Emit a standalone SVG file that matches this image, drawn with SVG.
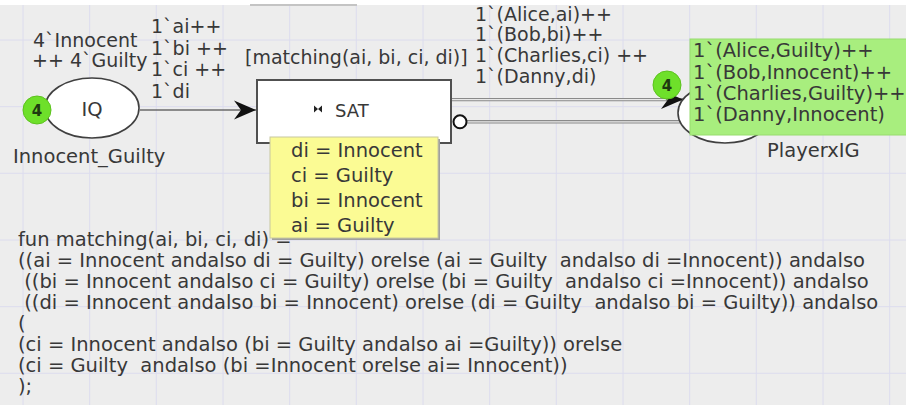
<svg xmlns="http://www.w3.org/2000/svg" width="906" height="405" viewBox="0 0 906 405">
  <style>
    .t { font-family: "DejaVu Sans", Verdana, sans-serif; font-size: 19.5px; fill: #383838; white-space: pre; }
    .s { font-size: 19px; }
    .grid line { stroke: #dcdcee; stroke-width: 1; }
    .place { fill: #ffffff; stroke: #404040; stroke-width: 1.6; }
    .token { fill: #6ee02a; stroke: #5cc21e; stroke-width: 1; }
    .tok { font-family: "DejaVu Sans", Verdana, sans-serif; font-size: 15px; font-weight: bold; fill: #1e3a10; text-anchor: middle; }
    .arc { fill: none; stroke: #8a8a8a; stroke-width: 3.4; }
    .arcIn { fill: none; stroke: #e8e8e8; stroke-width: 1.2; }
  </style>
  <defs>
    <marker id="head" markerUnits="userSpaceOnUse" viewBox="-23 -10 24 20" refX="0" refY="0" markerWidth="24" markerHeight="20" orient="auto">
      <path d="M0,0 L-22,-9.5 L-15,0 L-22,9.5 Z" fill="#111"/>
    </marker>
  </defs>

  <!-- canvas -->
  <rect x="0" y="0" width="906" height="405" fill="#ededed"/>
  <g class="grid">
    <line x1="23" y1="0" x2="23" y2="405"/>
    <line x1="89.7" y1="0" x2="89.7" y2="405"/>
    <line x1="156.3" y1="0" x2="156.3" y2="405"/>
    <line x1="223" y1="0" x2="223" y2="405"/>
    <line x1="289.7" y1="0" x2="289.7" y2="405"/>
    <line x1="356.3" y1="0" x2="356.3" y2="405"/>
    <line x1="423" y1="0" x2="423" y2="405"/>
    <line x1="489.7" y1="0" x2="489.7" y2="405"/>
    <line x1="556.3" y1="0" x2="556.3" y2="405"/>
    <line x1="623" y1="0" x2="623" y2="405"/>
    <line x1="689.7" y1="0" x2="689.7" y2="405"/>
    <line x1="756.3" y1="0" x2="756.3" y2="405"/>
    <line x1="823" y1="0" x2="823" y2="405"/>
    <line x1="889.7" y1="0" x2="889.7" y2="405"/>
    <line x1="0" y1="40" x2="906" y2="40"/>
    <line x1="0" y1="106.7" x2="906" y2="106.7"/>
    <line x1="0" y1="173.3" x2="906" y2="173.3"/>
    <line x1="0" y1="240" x2="906" y2="240"/>
    <line x1="0" y1="306.7" x2="906" y2="306.7"/>
    <line x1="0" y1="373.3" x2="906" y2="373.3"/>
  </g>
  <rect x="0" y="0" width="906" height="5" fill="#ffffff"/>
  <rect x="250" y="4" width="107" height="2" fill="#c4c4c4"/>

  <!-- connectors -->
  <g id="arcs">
    <line x1="140" y1="110" x2="256" y2="110" stroke="#6a6a6a" stroke-width="1.4" marker-end="url(#head)"/>
    <path class="arc" d="M451,99.6 L683,99.6" marker-end="url(#head)"/>
    <path class="arcIn" d="M451,99.6 L666,99.6"/>
    <path class="arc" d="M467,121.8 L680,121.8"/>
    <path class="arcIn" d="M467,121.8 L680,121.8"/>
    <circle cx="460" cy="121.8" r="6.5" fill="#ffffff" stroke="#111" stroke-width="2"/>
    <text class="t s" x="151" y="33">1`ai++</text>
    <text class="t s" x="151" y="55">1`bi ++</text>
    <text class="t s" x="151" y="76">1`ci ++</text>
    <text class="t s" x="151" y="98">1`di</text>
    <text class="t s" x="475" y="20.5">1`(Alice,ai)++</text>
    <text class="t s" x="475" y="41">1`(Bob,bi)++</text>
    <text class="t s" x="475" y="62">1`(Charlies,ci) ++</text>
    <text class="t s" x="475" y="82.5">1`(Danny,di)</text>
  </g>

  <!-- place IQ -->
  <g id="place-IQ">
    <ellipse class="place" cx="92" cy="108" rx="47" ry="30"/>
    <text class="t" x="92" y="116" text-anchor="middle">IQ</text>
    <text class="t s" x="33" y="47">4`Innocent</text>
    <text class="t s" x="32" y="67">++ 4`Guilty</text>
    <text class="t" x="13" y="163">Innocent_Guilty</text>
    <circle class="token" cx="37" cy="110" r="14"/>
    <text class="tok" x="37" y="115.5">4</text>
  </g>

  <!-- transition SAT -->
  <g id="trans-SAT">
    <rect x="257" y="80" width="194" height="63" fill="#ffffff" stroke="#505050" stroke-width="2"/>
    <path d="M314,105.5 L314,112.5 L318,109 Z M322,105.5 L322,112.5 L318,109 Z" fill="#222"/>
    <text class="t" x="335" y="117" style="font-size:18px">SAT</text>
    <text class="t s" x="245" y="64">[matching(ai, bi, ci, di)]</text>
  </g>

  <!-- place PlayerxIG -->
  <g id="place-PlayerxIG">
    <ellipse class="place" cx="725" cy="113" rx="47" ry="30"/>
    <text class="t" x="767" y="157">PlayerxIG</text>
    <circle class="token" cx="667" cy="85" r="14"/>
    <text class="tok" x="667" y="90.5">4</text>
    <rect x="690" y="39" width="220" height="96" fill="#a8ee7e" stroke="#98dc6e" stroke-width="1"/>
    <text class="t" x="693" y="57">1`(Alice,Guilty)++</text>
    <text class="t" x="693" y="79">1`(Bob,Innocent)++</text>
    <text class="t" x="693" y="100">1`(Charlies,Guilty)++</text>
    <text class="t" x="693" y="121">1`(Danny,Innocent)</text>
  </g>

  <!-- declaration of the guard function -->
  <g id="decl-matching">
    <text class="t" x="18" y="245.5">fun matching(ai, bi, ci, di) =</text>
    <text class="t" x="18" y="266.5">((ai = Innocent andalso di = Guilty) orelse (ai = Guilty  andalso di =Innocent)) andalso</text>
    <text class="t" x="18" y="287.5"> ((bi = Innocent andalso ci = Guilty) orelse (bi = Guilty  andalso ci =Innocent)) andalso</text>
    <text class="t" x="18" y="308.5"> ((di = Innocent andalso bi = Innocent) orelse (di = Guilty  andalso bi = Guilty)) andalso</text>
    <text class="t" x="18" y="329.5">(</text>
    <text class="t" x="18" y="350.5">(ci = Innocent andalso (bi = Guilty andalso ai =Guilty)) orelse</text>
    <text class="t" x="18" y="371.5">(ci = Guilty  andalso (bi =Innocent orelse ai= Innocent))</text>
    <text class="t" x="18" y="392.5">);</text>
  </g>

  <!-- binding tooltip of SAT -->
  <g id="binding-SAT">
    <rect x="272" y="139" width="168" height="101" fill="#a0a0a0"/>
    <rect x="270" y="137" width="168" height="101" fill="#fbfb94" stroke="#c8c8a0" stroke-width="1"/>
    <text class="t" x="291" y="157">di = Innocent</text>
    <text class="t" x="291" y="182">ci = Guilty</text>
    <text class="t" x="291" y="207">bi = Innocent</text>
    <text class="t" x="291" y="232">ai = Guilty</text>
  </g>
</svg>
